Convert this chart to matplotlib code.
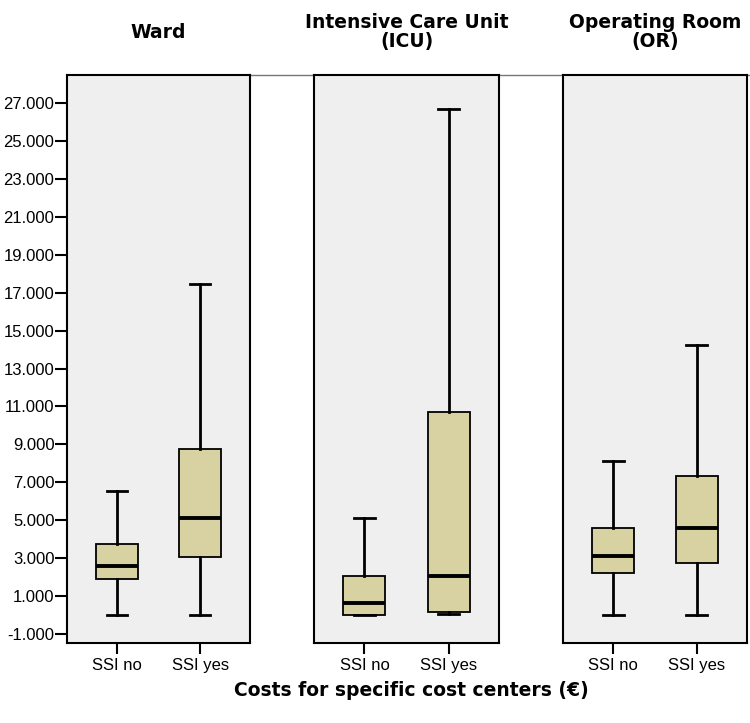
import matplotlib.pyplot as plt
from matplotlib.lines import Line2D
from matplotlib.ticker import FuncFormatter

# =========================================
# DATA (in €)
# =========================================
panels     = ["Ward", "Intensive Care Unit\n(ICU)", "Operating Room\n(OR)"]
groups     = ["SSI no", "SSI yes"]

whislo = [[0, 0],       [0, 50],       [0, 0]]
q1     = [[1880, 3050], [0, 150],      [2230, 2760]]
med    = [[2600, 5130], [620, 2060],   [3110, 4610]]
q3     = [[3730, 8760], [2060, 10720], [4610, 7330]]
whishi = [[6550, 17440],[5130, 26700], [8120, 14240]]

yticks = list(range(-1000, 28000, 2000))

# =========================================
# STYLE
# =========================================
BOX_COLOR = "#d8d2a2"
BG_COLOR  = "#efefef"

plt.rcParams["font.family"] = ["Liberation Sans", "DejaVu Sans"]

fig = plt.figure(figsize=(7.5, 7.23), dpi=100)

# panel positions in figure fractions
lefts  = [67 / 750, 314 / 750, 563 / 750]
widths = [183 / 750, 185 / 750, 184 / 750]
bottom = 1 - 643 / 723
height = (643 - 75) / 723

axes = []
for i, name in enumerate(panels):
    ax = fig.add_axes([lefts[i], bottom, widths[i], height])
    axes.append(ax)
    ax.set_facecolor(BG_COLOR)

    stats = []
    for j, g in enumerate(groups):
        stats.append({
            "label": g,
            "whislo": whislo[i][j],
            "q1": q1[i][j],
            "med": med[i][j],
            "q3": q3[i][j],
            "whishi": whishi[i][j],
            "fliers": [],
        })

    ax.bxp(
        stats,
        positions=[1, 2],
        widths=0.5,
        patch_artist=True,
        showfliers=False,
        boxprops=dict(facecolor=BOX_COLOR, edgecolor="black", linewidth=1.3),
        medianprops=dict(color="black", linewidth=2.8, solid_capstyle="butt"),
        whiskerprops=dict(color="black", linewidth=2),
        capprops=dict(color="black", linewidth=2),
        capwidths=0.25,
    )

    ax.set_xlim(0.4, 2.6)
    ax.set_ylim(-1475, 28480)
    ax.set_xticks([1, 2])
    ax.set_xticklabels(groups, fontsize=12)
    ax.tick_params(axis="x", length=8, width=1.5, direction="out", pad=3)

    for s in ax.spines.values():
        s.set_linewidth(1.5)
        s.set_color("black")

    if i == 0:
        ax.set_yticks(yticks)
        ax.yaxis.set_major_formatter(
            FuncFormatter(lambda v, p: f"{int(v):,}".replace(",", "."))
        )
        ax.tick_params(axis="y", length=9, width=1.5, labelsize=12, pad=0)
    else:
        ax.set_yticks([])

    # panel header, centred about 43 px above the panel
    ax.text(0.5, 1 + 43 / 568, name, transform=ax.transAxes,
            ha="center", va="center", fontsize=13.5, fontweight="bold",
            family=["DejaVu Sans"], linespacing=1.05)

# thin line joining the panel tops
fig.add_artist(Line2D([lefts[0], 1.0], [1 - 75 / 723, 1 - 75 / 723],
                      transform=fig.transFigure, color="#777777",
                      linewidth=1, zorder=0))

fig.text(411 / 750, 1 - 690 / 723, "Costs for specific cost centers (€)",
         ha="center", va="center", fontsize=13.5, fontweight="bold",
         family=["DejaVu Sans"])

plt.savefig("out.png", dpi=100)
